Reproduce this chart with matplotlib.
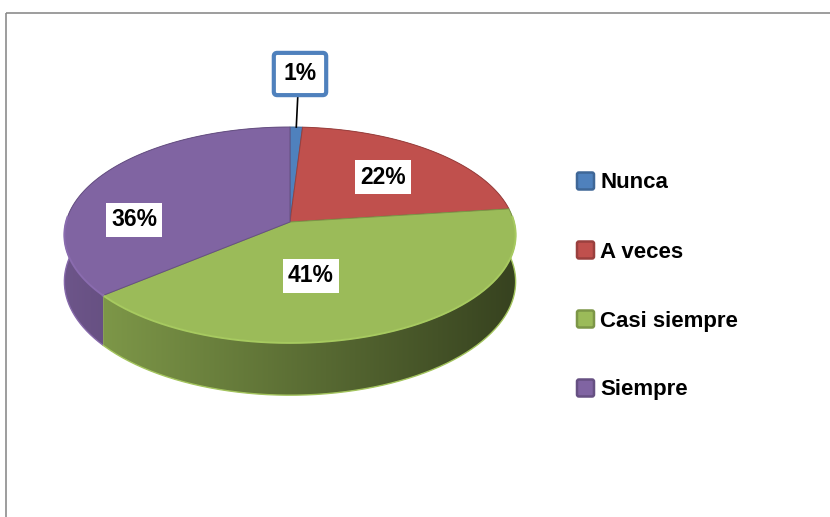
import numpy as np
import matplotlib.pyplot as plt
from matplotlib.patches import Polygon, FancyBboxPatch, Rectangle
from matplotlib.colors import to_rgb

# data
categories = ["Nunca", "A veces", "Casi siempre", "Siempre"]
values = [1, 22, 41, 36]
colors = ["#4f81bd", "#c0504d", "#9bbb59", "#8064a2"]

plt.rcParams['font.family'] = ['Liberation Sans', 'DejaVu Sans']

W, H = 830, 517
fig = plt.figure(figsize=(W / 100, H / 100), dpi=100)
ax = fig.add_axes([0, 0, 1, 1])

# pie geometry in pixel coords (perspective tilted disk)
cx, cy = 290, 222
rx, ry = 224, 106.4
k = 0.12
depth = 46


def proj(theta, h=0.0):
    u, v = np.cos(theta), np.sin(theta)
    w = 1 + k * v
    return cx + rx * u / w, cy - ry * v / w + h * depth / w


def shade(c, f):
    return tuple(np.clip(np.array(to_rgb(c)) * f, 0, 1))


fracs = np.array(values) / sum(values)
bounds = np.radians(90 - 360 * np.concatenate([[0], np.cumsum(fracs)]))

# side walls, back to front
order = sorted(range(len(values)),
               key=lambda i: -np.sin((bounds[i] + bounds[i + 1]) / 2))
xs = np.linspace(0, W, 400)
fx = np.clip(0.85 - 0.0011 * (xs - 63), 0.36, 1.0)
for i in order:
    ts = np.linspace(bounds[i], bounds[i + 1], 200)
    tx, ty = proj(ts, 0)
    bx, by = proj(ts[::-1], 1)
    pts = np.column_stack([np.concatenate([tx, bx]), np.concatenate([ty, by])])
    poly = Polygon(pts, closed=True, facecolor='none', edgecolor='none')
    ax.add_patch(poly)
    base = np.array(to_rgb(colors[i]))
    img = (fx[:, None] * base[None, :])[None, :, :]
    im = ax.imshow(img, extent=[0, W, H, 0], aspect='auto', zorder=1)
    im.set_clip_path(poly)
    # light edge along the bottom of the wall
    lx, ly = proj(ts, 1)
    ax.plot(lx, ly, color=shade(colors[i], 1.05), lw=1.0, zorder=2)

# top faces
for i in range(len(values)):
    ts = np.linspace(bounds[i], bounds[i + 1], 200)
    tx, ty = proj(ts, 0)
    pts = np.column_stack([np.concatenate([[cx], tx]), np.concatenate([[cy], ty])])
    ax.add_patch(Polygon(pts, closed=True, facecolor=colors[i],
                         edgecolor=shade(colors[i], 0.8), lw=0.7, zorder=3))
    front = np.sin(ts) < 0.05
    if front.any():
        ax.plot(tx[front], ty[front], color=shade(colors[i], 1.08), lw=1.4, zorder=4)

# data labels
label_pos = [(300, 74), (383, 177), (311, 276), (134, 220)]
for i, (lx, ly) in enumerate(label_pos):
    txt = f"{values[i]}%"
    if i == 0:
        mx, my = proj((bounds[0] + bounds[1]) / 2, 0)
        ax.plot([lx - 2, mx], [ly + 18, my], color='black', lw=1.2, zorder=5)
        ax.text(lx, ly, txt, fontsize=16.5, fontweight='bold', ha='center', va='center',
                zorder=6,
                bbox=dict(boxstyle='round,pad=0.42,rounding_size=0.15',
                          facecolor='white', edgecolor=colors[0], lw=3))
    else:
        ax.text(lx, ly, txt, fontsize=16.5, fontweight='bold', ha='center', va='center',
                zorder=6,
                bbox=dict(boxstyle='square,pad=0.22', facecolor='white', edgecolor='none'))

# legend
for i, name in enumerate(categories):
    yc = 181 + 69 * i
    ax.add_patch(FancyBboxPatch((577, yc - 8.5), 17, 17,
                                boxstyle='round,pad=0,rounding_size=2',
                                facecolor=colors[i], edgecolor=shade(colors[i], 0.8),
                                lw=1.8, zorder=5))
    ax.text(600, yc + 7.5, name, fontsize=16, fontweight='bold', ha='left',
            va='baseline', zorder=5)

# chart frame
ax.add_patch(Rectangle((5.5, 12.5), 900, 600, facecolor='none',
                       edgecolor='#8c8c8c', lw=1.2, zorder=0))

ax.set_xlim(0, W)
ax.set_ylim(H, 0)
ax.axis('off')
fig.savefig("out.png", dpi=100)
